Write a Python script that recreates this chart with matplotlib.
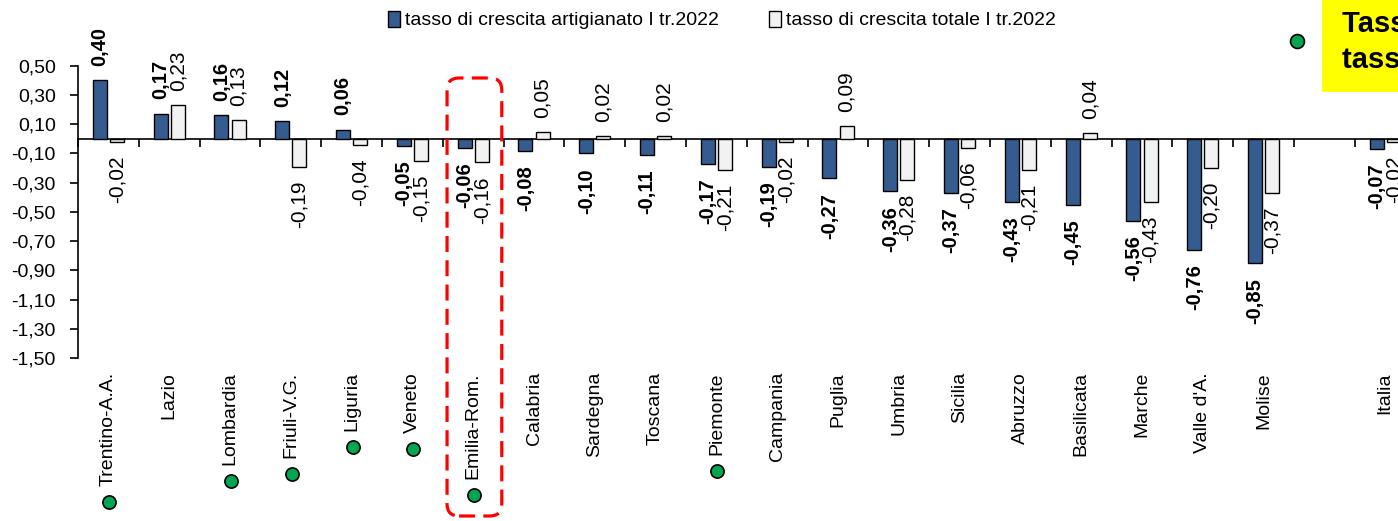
import matplotlib.pyplot as plt
import numpy as np
from matplotlib.patches import FancyBboxPatch, Patch, Rectangle
from matplotlib.lines import Line2D
from matplotlib.transforms import IdentityTransform
from matplotlib.ticker import FuncFormatter

plt.rcParams['font.family'] = ['Liberation Sans', 'DejaVu Sans']
stretto = ['Liberation Sans Narrow', 'Liberation Sans']

# regioni ordinate per tasso artigianato; slot vuoto prima del totale Italia
regioni = ['Trentino-A.A.', 'Lazio', 'Lombardia', 'Friuli-V.G.', 'Liguria', 'Veneto',
           'Emilia-Rom.', 'Calabria', 'Sardegna', 'Toscana', 'Piemonte', 'Campania',
           'Puglia', 'Umbria', 'Sicilia', 'Abruzzo', 'Basilicata', 'Marche',
           "Valle d'A.", 'Molise', '', 'Italia']
artigianato = [0.40, 0.17, 0.16, 0.12, 0.06, -0.05, -0.06, -0.08, -0.10, -0.11, -0.17,
               -0.19, -0.27, -0.36, -0.37, -0.43, -0.45, -0.56, -0.76, -0.85, None, -0.07]
totale = [-0.02, 0.23, 0.13, -0.19, -0.04, -0.15, -0.16, 0.05, 0.02, 0.02, -0.21,
          -0.02, 0.09, -0.28, -0.06, -0.21, 0.04, -0.43, -0.20, -0.37, None, -0.02]
evidenziata = 'Emilia-Rom.'

lab_art = 'tasso di crescita artigianato I tr.2022'
lab_tot = 'tasso di crescita totale I tr.2022'
nota = 'Tasso artigianato superiore al\ntasso totale'

blu = '#345C8E'
grigio = '#F2F2F2'
verde = '#00A651'

W, H = 1398, 521
fig = plt.figure(figsize=(W / 100, H / 100), dpi=100)
slot = 60.8
ax = fig.add_axes([78 / W, 1 - 358.2 / H, len(regioni) * slot / W, (358.2 - 65.7) / H])

x = np.arange(len(regioni))
idx = [i for i in x if artigianato[i] is not None]
a_vals = np.array([artigianato[i] for i in idx])
t_vals = np.array([totale[i] for i in idx])
xi = np.array(idx)
bw, off = 0.23, 0.14

ax.bar(xi - off, a_vals, bw, color=blu, edgecolor='black', linewidth=1, zorder=3)
ax.bar(xi + off, t_vals, bw, color=grigio, edgecolor='black', linewidth=1, zorder=3)


def fmt(v):
    return f'{v:.2f}'.replace('.', ',')


for xx, v in zip(xi - off, a_vals):
    ax.annotate(fmt(v), (xx, v), xytext=(0, 10.5 if v >= 0 else -10.5),
                textcoords='offset points', rotation=90, ha='center',
                va='bottom' if v >= 0 else 'top', fontsize=14.5, fontweight='bold',
                family=stretto, annotation_clip=False)
for xx, v in zip(xi + off, t_vals):
    ax.annotate(fmt(v), (xx, v), xytext=(0, 10 if v >= 0 else -10),
                textcoords='offset points', rotation=90, ha='center',
                va='bottom' if v >= 0 else 'top', fontsize=15,
                family=stretto, annotation_clip=False)

ymin, ymax = -1.5, 0.5
ax.set_ylim(ymin, ymax)
ax.set_xlim(-0.5, len(regioni) - 0.5)
ax.set_yticks(np.arange(-1.5, 0.51, 0.2))
ax.yaxis.set_major_formatter(FuncFormatter(lambda v, p: fmt(v)))
ax.tick_params(axis='y', direction='out', length=6, width=1.2, pad=10, labelsize=14)
ax.set_xticks(x)
ax.set_xticklabels(regioni, rotation=90, va='top', ha='center', fontsize=14)
ax.tick_params(axis='x', length=0, pad=10)
for s in ['top', 'right', 'bottom']:
    ax.spines[s].set_visible(False)
ax.spines['left'].set_linewidth(1.2)

# asse orizzontale sullo zero con tacche tra le categorie
zero = ax.secondary_xaxis((0 - ymin) / (ymax - ymin))
zero.set_alignment('bottom')
zero.set_xticks(np.arange(-0.5, len(regioni), 1))
zero.set_xticklabels([])
zero.tick_params(direction='out', length=6, width=1.2)
zero.spines['bottom'].set_linewidth(1.2)
zero.spines['top'].set_visible(False)

fig.legend(handles=[Patch(facecolor=blu, edgecolor='black', label=lab_art),
                    Patch(facecolor=grigio, edgecolor='black', label=lab_tot)],
           loc='center', bbox_to_anchor=(722 / W, 1 - 20 / H), ncol=2, frameon=False,
           fontsize=14, handlelength=0.6, handleheight=0.9, handletextpad=0.25,
           columnspacing=2.6, borderpad=0)

# pallino verde sotto le regioni con artigianato sopra il totale
fig.canvas.draw()
r = fig.canvas.get_renderer()
for lab, a, t in zip(ax.get_xticklabels(), artigianato, totale):
    if a is None or a <= t:
        continue
    bb = lab.get_window_extent(r)
    fig.add_artist(Line2D([(bb.x0 + bb.x1) / 2 + 1], [bb.y0 - 16], marker='o',
                          markersize=9.5, markerfacecolor=verde, markeredgecolor='black',
                          markeredgewidth=1.2, linestyle='none',
                          transform=IdentityTransform()))

# riquadro tratteggiato sulla regione evidenziata
k = regioni.index(evidenziata)
x0 = ax.transData.transform((k - 0.43, 0))[0]
x1 = ax.transData.transform((k + 0.47, 0))[0]
y1 = ax.transData.transform((0, 0.416))[1]
y0 = H - 516
fig.add_artist(FancyBboxPatch((x0, y0), x1 - x0, y1 - y0,
                              boxstyle='round,pad=0,rounding_size=12',
                              facecolor='none', edgecolor='#FF0000', linewidth=2.3,
                              linestyle=(0, (5, 2.6)), transform=IdentityTransform()))

# nota in alto a destra
fig.add_artist(Line2D([1297], [H - 41], marker='o', markersize=10,
                      markerfacecolor=verde, markeredgecolor='black',
                      markeredgewidth=1.2, linestyle='none',
                      transform=IdentityTransform()))
fig.add_artist(Rectangle((1322, H - 92), 200, 120, facecolor='#FFFF00',
                         edgecolor='none', transform=IdentityTransform()))
fig.text(1342 / W, 1 - 10 / H, nota, ha='left', va='top', fontsize=21,
         fontweight='bold', family=stretto, linespacing=1.35)

fig.savefig('out.png', dpi=100)
